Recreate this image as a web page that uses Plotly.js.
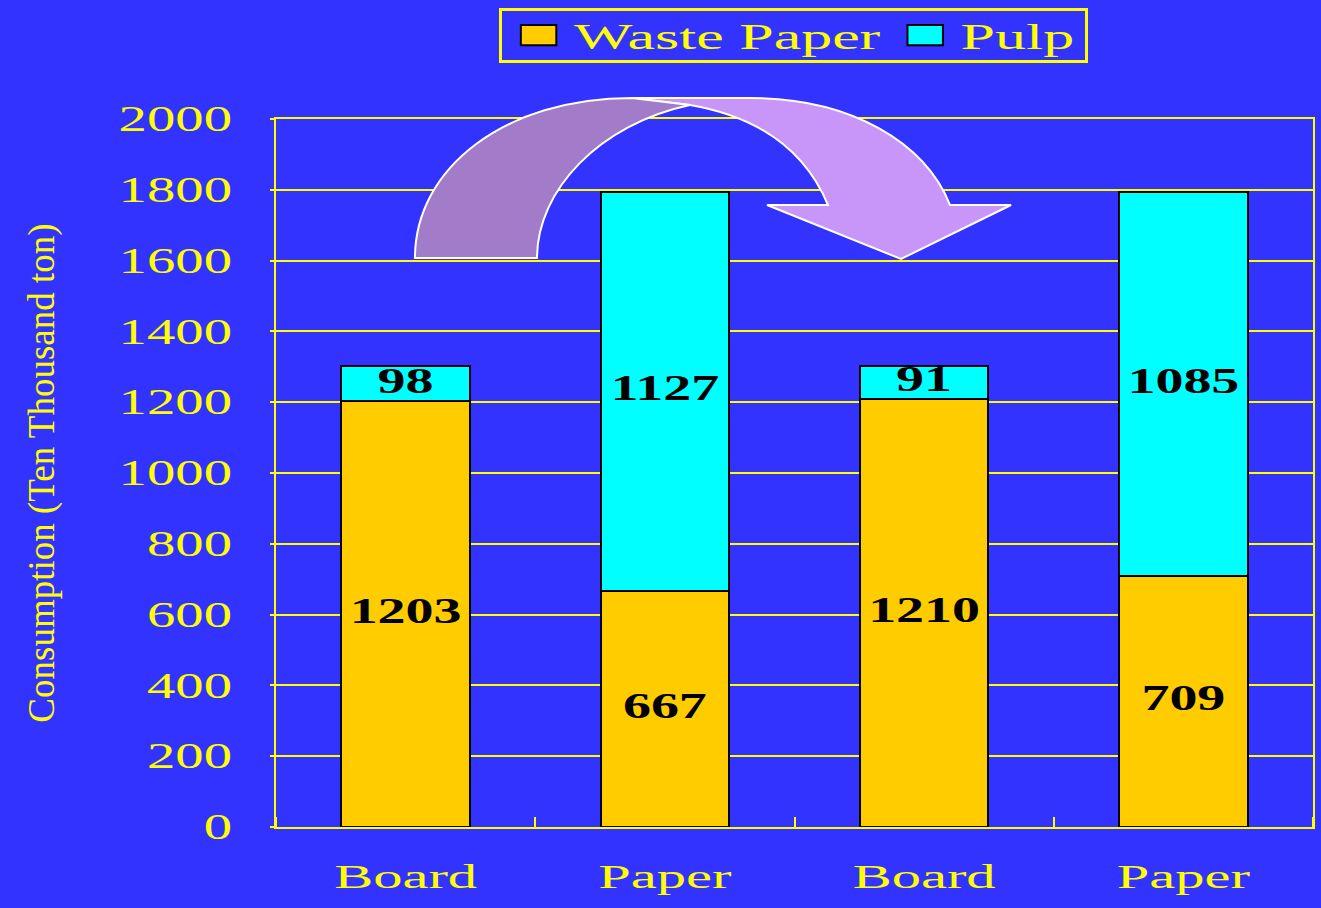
<!DOCTYPE html>
<html><head><meta charset="utf-8">
<script src="https://cdn.plot.ly/plotly-3.0.1.min.js"></script>
<style>
html,body{margin:0;padding:0;background:#3333FF;}
#chart{width:1321px;height:908px;}
</style>
</head><body><div id="chart"></div>
<script>
// ---- data ----
const categories = ["Board", "Paper", "Board", "Paper"];
const wastePaper = [1203, 667, 1210, 709];
const pulp = [98, 1127, 91, 1085];
const seriesNames = ["Waste Paper", "Pulp"];
const yTickVals = [0, 200, 400, 600, 800, 1000, 1200, 1400, 1600, 1800, 2000];
const yTitle = "Consumption (Ten Thousand ton)";

// ---- styling ----
const BG = "#3333FF", YEL = "#FFFF00";
const FONT = "Liberation Serif, Times New Roman, serif";
const pos = categories.map((_, i) => i);

// plot area in pixels (used only for the decorative arrow, in paper units)
const L = 276, T = 119, W = 1037, H = 708;
const px = p => ((p[0] - L) / W).toFixed(4) + "," + ((T + H - p[1]) / H).toFixed(4);
function path(segs) {
  return segs.map(s => s[0] + " " + s.slice(1).map(px).join(" ")).join(" ") + " Z";
}
const arrowBack = path([
  ["M", [415, 258]],
  ["C", [415, 168], [505, 98], [632, 98]],
  ["L", [690, 105]],
  ["C", [600, 124], [537, 190], [537, 258]]
]);
const arrowFront = path([
  ["M", [632, 98]],
  ["L", [751, 98]],
  ["C", [850, 98], [925, 142], [950, 205]],
  ["L", [1011, 205]],
  ["L", [901, 259]],
  ["L", [767, 205]],
  ["L", [828, 205]],
  ["C", [805, 150], [760, 117], [690, 105]]
]);

const labelFont = {family: FONT, size: 35, color: "#000000", weight: "bold"};
const traces = [
  {type: "bar", name: seriesNames[0], x: pos, y: wastePaper,
   marker: {color: "#FFCC00", line: {color: "#000000", width: 2}},
   width: 0.495, hoverinfo: "y"},
  {type: "bar", name: seriesNames[1], x: pos, y: pulp,
   marker: {color: "#00FFFF", line: {color: "#000000", width: 2}},
   width: 0.495, hoverinfo: "y"},
  {type: "scatter", mode: "text", x: pos, y: wastePaper.map(v => v / 2),
   text: wastePaper.map(String), showlegend: false, hoverinfo: "skip", textfont: labelFont},
  {type: "scatter", mode: "text", x: pos, y: wastePaper.map((v, i) => v + pulp[i] / 2),
   text: pulp.map(String), showlegend: false, hoverinfo: "skip", textfont: labelFont}
];

const layout = {
  width: 1321, height: 908,
  paper_bgcolor: BG, plot_bgcolor: BG,
  margin: {l: L, r: 1321 - L - W, t: T, b: 908 - T - H},
  barmode: "stack",
  font: {family: FONT, color: YEL, size: 32},
  showlegend: true,
  legend: {orientation: "h", traceorder: "normal", x: 0.499, xanchor: "center", y: 1.157, yanchor: "top",
    bgcolor: BG, bordercolor: YEL, borderwidth: 3,
    font: {family: FONT, size: 35, color: YEL}},
  xaxis: {range: [-0.5, 3.5], tickvals: pos, ticktext: categories,
    showgrid: false, zeroline: false, ticks: "", fixedrange: true,
    showline: true, linecolor: YEL, linewidth: 2, mirror: true,
    ticklabelstandoff: 18,
    tickfont: {family: FONT, size: 34, color: YEL},
    minor: {ticks: "inside", tick0: 0.5, dtick: 1, ticklen: 10, tickwidth: 2, tickcolor: YEL, showgrid: false}},
  yaxis: {range: [0, 2000], tickvals: yTickVals, ticktext: yTickVals.map(String),
    showgrid: true, gridcolor: YEL, gridwidth: 2, zeroline: false, fixedrange: true,
    showline: true, linecolor: YEL, linewidth: 2, mirror: true,
    ticks: "outside", ticklen: 4, tickcolor: YEL, tickwidth: 2,
    ticklabelstandoff: 31,
    tickfont: {family: FONT, size: 35, color: YEL},
    title: {text: yTitle, font: {family: FONT, size: 37, color: YEL}}},
  shapes: [
    {type: "path", xref: "paper", yref: "paper", path: arrowFront, layer: "above",
     fillcolor: "#C896F8", line: {color: "#FFFFFF", width: 2}},
    {type: "path", xref: "paper", yref: "paper", path: arrowBack, layer: "above",
     fillcolor: "#A37CC9", line: {color: "#FFFFFF", width: 2}}
  ]
};

// horizontal stretch of rendered text (the reference uses a widened serif face)
function stretchText(nodes, s) {
  nodes.forEach(t => {
    const x = parseFloat(t.getAttribute("x")) || 0;
    const tr = t.getAttribute("transform") || "";
    t.setAttribute("transform", tr + " translate(" + x + ",0) scale(" + s + ",1) translate(" + (-x) + ",0)");
  });
}

Plotly.newPlot("chart", traces, layout, {displayModeBar: false, staticPlot: true}).then(gd => {
  stretchText(gd.querySelectorAll(".ytick text"), 1.62);
  stretchText(gd.querySelectorAll(".xtick text"), 1.72);
  stretchText(gd.querySelectorAll(".textpoint text"), 1.6);
  // nudge the y-axis title to where the reference has it
  const yt = gd.querySelector(".g-ytitle text");
  if (yt) {
    const r = yt.getBoundingClientRect();
    const dx = 42 - (r.left + r.width / 2);
    yt.setAttribute("transform", "translate(" + dx + ",0) " + (yt.getAttribute("transform") || ""));
  }
  const leg = gd.querySelector(".legend");
  if (leg) {
    const bg = leg.querySelector("rect.bg");
    const w0 = parseFloat(bg.getAttribute("width"));
    const h0 = parseFloat(bg.getAttribute("height"));
    const bx = parseFloat(bg.getAttribute("x")) || 0;
    const by = parseFloat(bg.getAttribute("y")) || 0;
    const m = /translate\(\s*([-\d.e]+)[\s,]+([-\d.e]+)\s*\)/.exec(leg.getAttribute("transform") || "");
    if (m) {
      const x0 = parseFloat(m[1]), y0 = parseFloat(m[2]);
      const ls = 1.77;          // horizontal stretch
      const vs = 52 / h0;       // vertical squeeze of the box
      const cx = x0 + bx + w0 / 2;
      const top = y0 + by;
      leg.setAttribute("transform", "translate(" + (cx - ls * (bx + w0 / 2)) + "," + (top - vs * by) + ") scale(" + ls + "," + vs + ")");
      bg.setAttribute("vector-effect", "non-scaling-stroke");
      leg.querySelectorAll(".legendtext").forEach(t => {
        t.setAttribute("transform", (t.getAttribute("transform") || "") + " scale(1," + (1 / vs) + ")");
      });
      leg.querySelectorAll(".legendpoints path").forEach(p => {
        p.setAttribute("transform", (p.getAttribute("transform") || "") + " scale(1.67," + (1.67 / vs) + ")");
        p.setAttribute("vector-effect", "non-scaling-stroke");
      });
    }
  }
});
</script>
</body></html>
